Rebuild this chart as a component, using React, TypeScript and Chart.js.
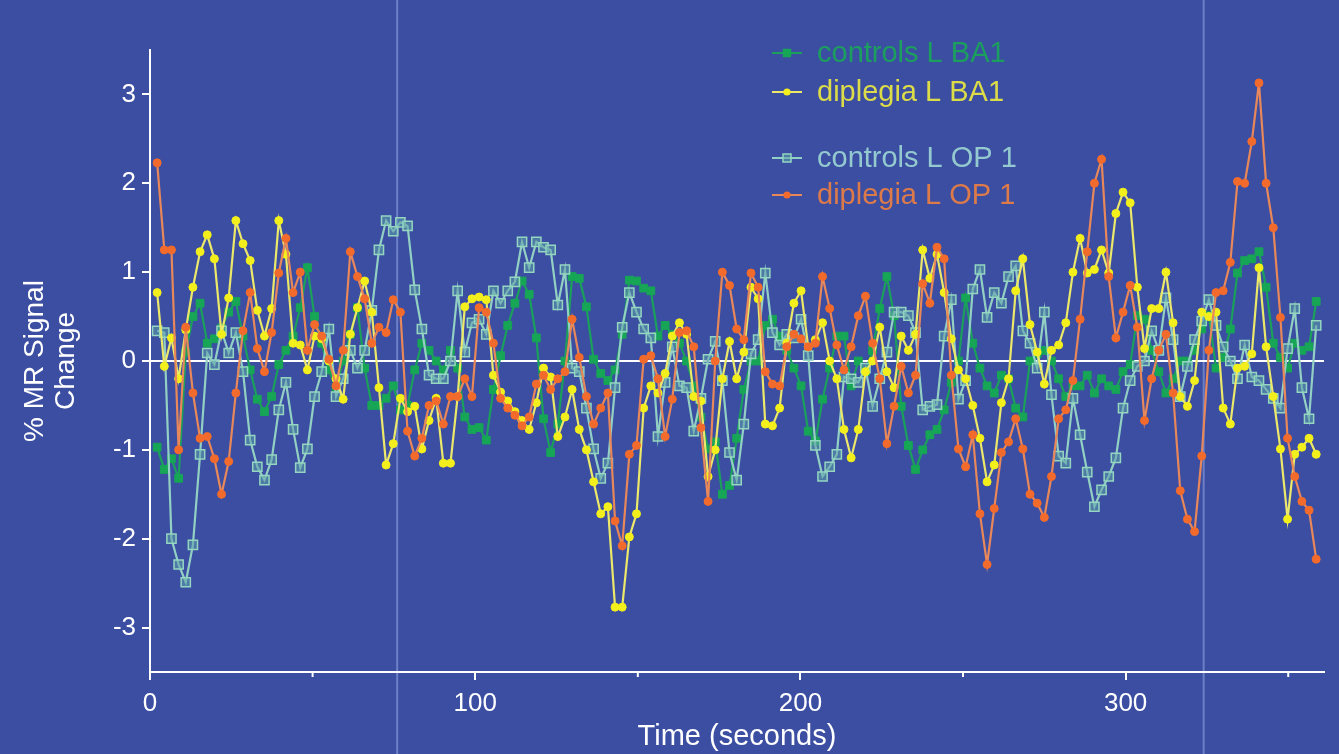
import React, { useEffect, useRef } from 'react';
import { Chart, registerables } from 'chart.js';

Chart.register(...registerables);

// Sampling interval of the time series (seconds)
const SAMPLE_INTERVAL = 2.2;

const seriesLabels = ['controls L BA1', 'diplegia L BA1', 'controls L OP 1', 'diplegia L OP 1'];

const controlsBA1 = [
  -0.97, -1.22, -1.1, -1.32, 0.1, 0.5, 0.65, 0.2, 0.25, 0.37,
  0.55, 0.67, 0.28, -0.1, -0.43, -0.57, -0.4, -0.04, 0.12, 0.28,
  0.6, 1.05, 0.5, 0.2, -0.1, -0.3, 0.0, 0.3, 0.6, -0.08,
  -0.5, -0.5, -0.42, -0.28, -0.55, -0.5, -0.1, 0.2, 0.12, 0.0,
  -0.1, 0.12, -0.08, -0.63, -0.77, -0.75, -0.89, -0.32, 0.06, 0.4,
  0.65, 0.9, 0.75, 0.26, -0.65, -1.03, -0.71, 0.0, 0.95, 0.93,
  0.61, 0.02, -0.14, -0.22, -0.1, 0.3, 0.91, 0.9, 0.82, 0.79,
  0.28, 0.4, 0.3, 0.2, 0.0, -0.28, -0.63, -0.99, -0.91, -1.5,
  -1.4, -0.87, -0.32, 0.0, 0.0, 0.4, 0.47, 0.28, 0.12, -0.08,
  -0.28, -0.79, -0.9, -0.43, -0.08, 0.28, 0.28, -0.28, 0.0, -0.12,
  0.12, 0.59, 0.95, 0.51, -0.51, -0.95, -1.22, -1.0, -0.83, -0.77,
  -0.55, -0.24, 0.0, 0.71, 0.2, -0.08, -0.28, -0.36, -0.16, -0.2,
  -0.53, -0.63, 0.0, 0.08, 0.12, 0.0, -0.2, -0.4, -0.28, -0.28,
  -0.16, -0.36, -0.2, -0.28, -0.32, -0.12, -0.04, 0.51, 0.47, 0.12,
  -0.12, -0.36, -0.2, 0.0, 0.0, 0.12, 0.36, 0.51, -0.08, 0.04,
  0.36, 0.99, 1.13, 1.15, 1.23, 0.83, 0.2, 0.04, -0.08, 0.2,
  0.12, 0.16, 0.67,
];

const diplegiaBA1 = [
  0.77, -0.06, 0.26, -0.2, 0.35, 0.83, 1.23, 1.42, 1.15, 0.3,
  0.71, 1.58, 1.32, 1.13, 0.57, 0.28, 0.59, 1.58, 1.2, 0.2,
  0.18, -0.1, 0.28, 0.25, 0.0, -0.2, -0.43, 0.3, 0.6, 0.9,
  0.55, -0.3, -1.17, -0.93, -0.42, -0.57, -0.51, -0.99, -0.67, -0.42,
  -1.15, -1.15, -0.4, 0.61, 0.7, 0.72, 0.69, -0.16, -0.35, -0.45,
  -0.57, -0.67, -0.77, -0.47, -0.08, -0.18, -0.85, -0.63, -0.32, -0.77,
  -1.0, -1.36, -1.72, -1.64, -2.77, -2.77, -1.98, -1.72, -0.53, -0.28,
  -0.36, -0.14, 0.28, 0.43, 0.3, -0.4, -0.45, -1.3, -1.0, -0.2,
  0.22, -0.2, 0.1, 0.83, 0.7, -0.71, -0.73, -0.53, 0.2, 0.65,
  0.79, 0.16, 0.24, 0.43, 0.0, -0.2, -0.77, -1.09, -0.77, -0.12,
  0.0, 0.38, -0.12, -0.3, 0.28, 0.12, 0.3, 1.25, 0.93, 1.2,
  0.77, 0.25, -0.1, -0.2, -0.5, -0.87, -1.36, -1.17, -0.47, -0.2,
  0.79, 1.15, 0.41, 0.1, -0.26, 0.12, 0.18, 0.43, 1.0, 1.38,
  0.99, 1.03, 1.25, 0.99, 1.66, 1.9, 1.78, 0.83, 0.14, 0.59,
  0.59, 1.0, 0.43, -0.4, -0.51, -0.22, 0.55, 0.5, 0.55, -0.53,
  -0.71, -0.08, -0.06, 0.08, 1.05, 0.16, -0.4, -0.99, -1.78, -1.05,
  -0.97, -0.87, -1.05,
];

const controlsOP1 = [
  0.34, 0.32, -2.0, -2.29, -2.49, -2.07, -1.05, 0.09, -0.04, 0.34,
  0.09, 0.32, -0.12, -0.89, -1.19, -1.34, -1.11, -0.55, -0.24, -0.77,
  -1.2, -0.99, -0.4, -0.12, 0.36, -0.4, -0.2, 0.12, -0.08, 0.12,
  0.57, 1.25, 1.58, 1.46, 1.56, 1.52, 0.8, 0.36, -0.16, -0.2,
  -0.2, 0.0, 0.79, 0.1, 0.43, 0.47, 0.3, 0.79, 0.65, 0.79,
  0.89, 1.34, 1.05, 1.34, 1.28, 1.25, 0.63, 1.03, -0.08, -0.12,
  -0.53, -0.99, -1.32, -1.15, -0.3, 0.38, 0.77, 0.55, 0.36, 0.26,
  -0.85, -0.24, 0.16, -0.28, -0.3, -0.79, -0.42, 0.02, 0.22, -0.22,
  -1.03, -1.34, -0.71, 0.08, 0.24, 0.99, 0.32, 0.18, 0.3, 0.26,
  0.47, 0.06, -0.95, -1.3, -1.19, -1.05, -0.18, -0.2, -0.24, -0.08,
  -0.51, -0.2, 0.1, 0.55, 0.55, 0.51, 0.32, -0.55, -0.51, -0.49,
  0.28, 0.69, -0.43, -0.22, 0.81, 1.03, 0.49, 0.77, 0.65, 0.95,
  1.07, 0.34, 0.2, -0.08, 0.55, -0.38, -1.07, -1.15, -0.42, -0.83,
  -1.25, -1.64, -1.45, -1.3, -1.09, -0.53, -0.22, -0.06, 0.0, 0.34,
  0.12, 0.71, 0.24, -0.4, -0.06, 0.24, 0.45, 0.69, 0.4, 0.16,
  0.0, -0.2, 0.18, -0.18, -0.22, -0.32, -0.42, -0.53, 0.14, 0.59,
  -0.3, -0.65, 0.4,
];

const diplegiaOP1 = [
  2.23, 1.25, 1.25, -1.0, 0.38, -0.36, -0.87, -0.85, -1.1, -1.5,
  -1.13, -0.36, 0.34, 0.77, 0.14, -0.12, 0.32, 0.99, 1.38, 0.77,
  1.0, 0.12, 0.41, 0.28, 0.02, -0.28, 0.12, 1.23, 0.95, 0.7,
  0.2, 0.38, 0.32, 0.69, 0.55, -0.79, -1.07, -0.87, -0.5, -0.45,
  -0.71, -0.4, -0.4, -0.2, -0.4, 0.6, 0.55, 0.2, -0.42, -0.53,
  -0.61, -0.73, -0.63, -0.26, -0.16, -0.32, -0.2, -0.12, 0.47, 0.04,
  -0.4, -0.71, -0.53, -0.36, -1.8, -2.08, -1.05, -0.95, 0.02, 0.06,
  -0.2, -0.85, -0.43, 0.32, 0.34, 0.16, -0.75, -1.58, 0.0, 1.0,
  0.85, 0.36, 0.24, 0.99, 0.83, -0.12, -0.26, -0.28, 0.16, 0.3,
  0.25, 0.16, 0.2, 0.95, 0.59, 0.18, -0.1, 0.16, 0.51, 0.73,
  0.2, -0.2, -0.93, -0.51, -0.06, -0.36, -0.16, 0.87, 0.65, 1.28,
  1.15, -0.16, -0.99, -1.19, -0.83, -1.72, -2.29, -1.66, -1.03, -0.91,
  -0.65, -0.99, -1.5, -1.6, -1.76, -1.3, -0.65, -0.55, -0.22, 0.47,
  1.23, 2.0, 2.27, 0.95, 0.26, 0.55, 0.85, 0.38, -0.67, -0.2,
  0.12, 0.3, -0.36, -1.46, -1.78, -1.92, -1.07, 0.12, 0.77, 0.79,
  1.11, 2.02, 2.0, 2.47, 3.13, 2.0, 1.5, 0.49, -0.87, -1.3,
  -1.58, -1.68, -2.23,
];

const yTickValues = [-3, -2, -1, 0, 1, 2, 3];
const xMajorTicks = [0, 100, 200, 300];
const xMinorTicks = [50, 150, 250, 350];
const markerTimes = [76, 324];

const BG = '#3b4ea2';
const FONT = "'Liberation Sans', Arial, Helvetica, sans-serif";

const styles = [
  { line: '#1aa05a', point: '#17a556', border: '#17a556', style: 'rect', radius: 5.5, text: '#1c9e5e' },
  { line: '#ebe86a', point: '#f3ef1c', border: '#f3ef1c', style: 'circle', radius: 4, text: '#dcdc48' },
  { line: '#93d0c4', point: 'rgba(95,160,170,0.55)', border: '#94d6c0', style: 'rect', radius: 6.5, text: '#93c9cf' },
  { line: '#e8875a', point: '#f26b2c', border: '#f26b2c', style: 'circle', radius: 4, text: '#dc7a4a' },
];

const toPoints = (vals: number[]) => vals.map((v, i) => ({ x: (i + 1) * SAMPLE_INTERVAL, y: v }));

const bgPlugin = {
  id: 'bgPlugin',
  beforeDraw(chart: any) {
    const { ctx, width, height } = chart;
    ctx.save();
    ctx.fillStyle = BG;
    ctx.fillRect(0, 0, width, height);
    const xs = chart.scales.x;
    ctx.strokeStyle = 'rgba(150,168,230,0.55)';
    ctx.lineWidth = 2;
    markerTimes.forEach((t) => {
      const px = xs.getPixelForValue(t);
      ctx.beginPath();
      ctx.moveTo(px, 0);
      ctx.lineTo(px, height);
      ctx.stroke();
    });
    ctx.restore();
  },
  beforeDatasetsDraw(chart: any) {
    const { ctx, chartArea } = chart;
    const y0 = chart.scales.y.getPixelForValue(0);
    ctx.save();
    ctx.strokeStyle = '#ffffff';
    ctx.lineWidth = 2;
    ctx.beginPath();
    ctx.moveTo(chartArea.left, y0);
    ctx.lineTo(chartArea.right, y0);
    ctx.stroke();
    ctx.restore();
  },
  afterDraw(chart: any) {
    const { ctx, chartArea } = chart;
    const xs = chart.scales.x;
    ctx.save();
    ctx.strokeStyle = '#ffffff';
    ctx.lineWidth = 2;
    xMinorTicks.forEach((t) => {
      const px = xs.getPixelForValue(t);
      ctx.beginPath();
      ctx.moveTo(px, chartArea.bottom);
      ctx.lineTo(px, chartArea.bottom + 5);
      ctx.stroke();
    });
    // legend
    const rows = [53, 92, 158, 195];
    ctx.font = `29px ${FONT}`;
    ctx.textBaseline = 'middle';
    ctx.textAlign = 'left';
    chart.data.datasets.forEach((ds: any, i: number) => {
      const s = styles[i];
      const y = rows[i];
      ctx.strokeStyle = s.line;
      ctx.lineWidth = 2;
      ctx.beginPath();
      ctx.moveTo(772, y);
      ctx.lineTo(802, y);
      ctx.stroke();
      ctx.fillStyle = s.point;
      ctx.strokeStyle = s.border;
      if (s.style === 'rect') {
        const h = i === 2 ? 4 : 3.5;
        ctx.fillRect(787 - h, y - h, 2 * h, 2 * h);
        ctx.lineWidth = 1.5;
        ctx.strokeRect(787 - h, y - h, 2 * h, 2 * h);
      } else {
        ctx.beginPath();
        ctx.arc(787, y, 3.6, 0, Math.PI * 2);
        ctx.fill();
      }
      ctx.fillStyle = s.text;
      ctx.fillText(ds.label, 817, y + 1);
    });
    ctx.restore();
  },
};

export default function App() {
  const canvasRef = useRef<HTMLCanvasElement | null>(null);

  useEffect(() => {
    document.body.style.margin = '0';
    const canvas = canvasRef.current;
    if (!canvas) return;
    const seriesValues = [controlsBA1, diplegiaBA1, controlsOP1, diplegiaOP1];
    const drawOrder = [3, 1, 2, 0];
    const chart = new Chart(canvas, {
      type: 'line',
      data: {
        datasets: seriesValues.map((vals, i) => ({
          label: seriesLabels[i],
          data: toPoints(vals),
          borderColor: styles[i].line,
          backgroundColor: styles[i].point,
          pointBackgroundColor: styles[i].point,
          pointBorderColor: styles[i].border,
          pointBorderWidth: i === 2 ? 1.5 : 1,
          pointStyle: styles[i].style as any,
          pointRadius: styles[i].radius,
          borderWidth: 2.2,
          tension: 0,
          fill: false,
          order: drawOrder[i],
        })),
      },
      options: {
        animation: false,
        responsive: true,
        maintainAspectRatio: false,
        layout: { padding: { top: 50, right: 15, left: 0, bottom: 0 } },
        plugins: {
          legend: { display: false },
          tooltip: { enabled: false },
        },
        scales: {
          x: {
            type: 'linear',
            min: 0,
            max: 361,
            afterBuildTicks: (scale: any) => {
              scale.ticks = xMajorTicks.map((v) => ({ value: v }));
            },
            afterFit: (scale: any) => {
              scale.height = 82;
            },
            border: { display: true, color: '#ffffff', width: 2 },
            grid: { display: true, drawOnChartArea: false, drawTicks: true, tickLength: 8, color: '#ffffff', lineWidth: 2 },
            ticks: { color: '#ffffff', font: { family: FONT, size: 26 }, padding: 8, maxRotation: 0, autoSkip: false },
            title: { display: true, text: 'Time (seconds)', color: '#ffffff', font: { family: FONT, size: 29 }, padding: { top: 0, bottom: 0 } },
          },
          y: {
            type: 'linear',
            min: -3.5,
            max: 3.5,
            afterBuildTicks: (scale: any) => {
              scale.ticks = yTickValues.map((v) => ({ value: v }));
            },
            afterFit: (scale: any) => {
              scale.width = 150;
            },
            border: { display: true, color: '#ffffff', width: 2 },
            grid: { display: true, drawOnChartArea: false, drawTicks: true, tickLength: 8, color: '#ffffff', lineWidth: 2 },
            ticks: { color: '#ffffff', font: { family: FONT, size: 26 }, padding: 6, autoSkip: false },
            title: { display: true, text: ['% MR Signal', 'Change'], color: '#ffffff', font: { family: FONT, size: 28, lineHeight: 1.1 }, padding: { top: 20, bottom: 0 } },
          },
        },
      },
      plugins: [bgPlugin],
    });
    return () => chart.destroy();
  }, []);

  return (
    <div style={{ width: '1339px', height: '754px', position: 'relative' }}>
      <canvas ref={canvasRef} />
    </div>
  );
}
